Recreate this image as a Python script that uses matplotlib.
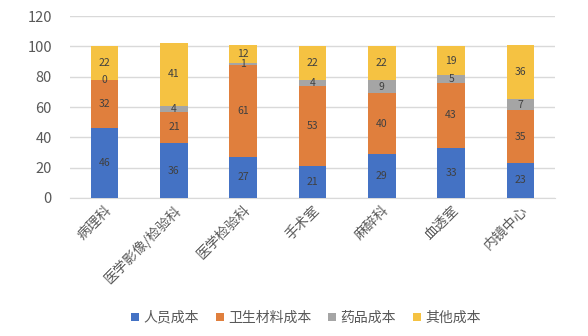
import matplotlib.pyplot as plt
import numpy as np

plt.rcParams['font.family'] = ['Noto Sans CJK SC', 'DejaVu Sans']

# 科室成本构成 (%)
departments = ['病理科', '医学影像/检验科', '医学检验科', '手术室', '麻醉科', '血透室', '内镜中心']
staff = [46, 36, 27, 21, 29, 33, 23]
material = [32, 21, 61, 53, 40, 43, 35]
drug = [0, 4, 1, 4, 9, 5, 7]
other = [22, 41, 12, 22, 22, 19, 36]

series = [('人员成本', staff, '#4472C4'),
          ('卫生材料成本', material, '#E07F3D'),
          ('药品成本', drug, '#A5A5A5'),
          ('其他成本', other, '#F5C242')]

fig = plt.figure(figsize=(5.88, 3.36), dpi=100)
ax = fig.add_axes([0.119, 0.411, 0.825, 0.541])

x = np.arange(len(departments))
bottom = np.zeros(len(departments))
for name, vals, color in series:
    vals = np.array(vals, dtype=float)
    ax.bar(x, vals, 0.4, bottom=bottom, color=color, label=name, zorder=3)
    for xi, b, v in zip(x, bottom, vals):
        ax.text(xi, b + v / 2, f'{int(v)}', ha='center', va='center',
                fontsize=7.5, color='#404040', zorder=4)
    bottom += vals

ax.set_xlim(-0.5, len(departments) - 0.5)
ax.set_ylim(0, 120)
ax.set_yticks(range(0, 121, 20))
ax.yaxis.grid(True, color='#D9D9D9', linewidth=1, zorder=0)
for s in ['top', 'right', 'left']:
    ax.spines[s].set_visible(False)
ax.spines['bottom'].set_color('#D9D9D9')
ax.tick_params(axis='both', length=0, colors='#595959', labelsize=10)
ax.tick_params(axis='y', pad=13, labelsize=10.5)
ax.set_xticks(x)
ax.set_xticklabels(departments, rotation=45, ha='right', rotation_mode='anchor')

fig.legend(loc='center', bbox_to_anchor=(0.52, 0.054), ncol=4, frameon=False,
           fontsize=10, handlelength=0.6, handleheight=0.6, columnspacing=1.2,
           handletextpad=0.3, labelcolor='#595959')

plt.savefig('out.png', dpi=100)
